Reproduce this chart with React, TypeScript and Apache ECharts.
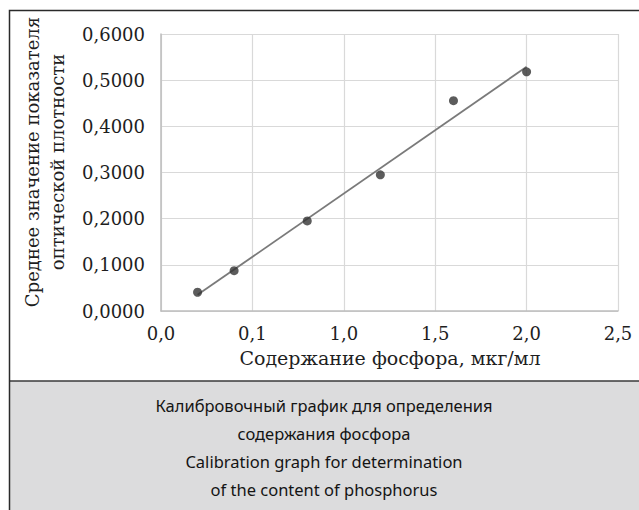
import React, { useEffect, useRef } from "react";
import * as echarts from "echarts";

const xValues = [0.2, 0.4, 0.8, 1.2, 1.6, 2.0];
const yValues = [0.0406, 0.0874, 0.195, 0.295, 0.4555, 0.518];
const trendX = [0.2, 2.0];
const trendY = [0.035, 0.529];
const xTickLabels = ["0,0", "0,1", "1,0", "1,5", "2,0", "2,5"];
const yTickLabels = ["0,0000", "0,1000", "0,2000", "0,3000", "0,4000", "0,5000", "0,6000"];
const xTitle = "Содержание фосфора, мкг/мл";
const yTitle = ["Среднее значение показателя", "оптической плотности"];
const captionLines = [
  "Калибровочный график для определения",
  "содержания фосфора",
  "Calibration graph for determination",
  "of the content of phosphorus",
];

export default function App() {
  const ref = useRef<HTMLDivElement>(null);
  useEffect(() => {
    if (!ref.current) return;
    const chart = echarts.init(ref.current, null, { renderer: "svg" });
    const serif = "DejaVu Serif";
    chart.setOption({
      animation: false,
      backgroundColor: "#ffffff",
      grid: { left: 161, top: 34, right: 21, bottom: 199, containLabel: false },
      xAxis: {
        type: "value",
        min: 0,
        max: 2.5,
        interval: 0.5,
        axisLine: { show: true, lineStyle: { color: "#bdbdbd", width: 1.5 } },
        axisTick: { show: false },
        splitLine: { show: true, lineStyle: { color: "#d9d9d9", width: 1.2 } },
        axisLabel: {
          margin: 13,
          fontFamily: serif,
          fontSize: 18,
          color: "#1e1e1e",
          formatter: (v: number) => xTickLabels[Math.round(v / 0.5)] ?? "",
        },
      },
      yAxis: {
        type: "value",
        min: 0,
        max: 0.6,
        interval: 0.1,
        axisLine: { show: true, lineStyle: { color: "#bdbdbd", width: 1.5 } },
        axisTick: { show: false },
        splitLine: { show: true, lineStyle: { color: "#d9d9d9", width: 1.2 } },
        axisLabel: {
          margin: 16,
          fontFamily: serif,
          fontSize: 18,
          color: "#1e1e1e",
          formatter: (v: number) => yTickLabels[Math.round(v / 0.1)] ?? "",
        },
      },
      series: [
        {
          type: "line",
          data: trendX.map((x, i) => [x, trendY[i]]),
          showSymbol: false,
          symbol: "none",
          lineStyle: { color: "#7a7a7a", width: 1.8 },
          silent: true,
          z: 2,
        },
        {
          type: "scatter",
          data: xValues.map((x, i) => [x, yValues[i]]),
          symbol: "circle",
          symbolSize: 9,
          itemStyle: { color: "#333333" },
          z: 3,
        },
      ],
      graphic: [
        {
          type: "rect",
          shape: { x: 9.5, y: 381, width: 640, height: 140 },
          style: { fill: "#dcdcdd", stroke: "none" },
          z: 0,
        },
        {
          type: "line",
          shape: { x1: 9, y1: 381, x2: 640, y2: 381 },
          style: { stroke: "#3a3a3a", lineWidth: 1.5 },
          z: 1,
        },
        {
          type: "rect",
          shape: { x: 9.5, y: 10.5, width: 640, height: 520 },
          style: { fill: "none", stroke: "#2a2a2a", lineWidth: 1.5 },
          z: 1,
        },
        {
          type: "text",
          x: 45,
          y: 162,
          rotation: Math.PI / 2,
          style: {
            text: yTitle.join("\n"),
            font: `18px "${serif}"`,
            fill: "#1e1e1e",
            align: "center",
            verticalAlign: "middle",
            lineHeight: 25,
          },
          z: 2,
        },
        {
          type: "text",
          x: 390,
          y: 358,
          style: {
            text: xTitle,
            font: `19px "${serif}"`,
            fill: "#1e1e1e",
            align: "center",
            verticalAlign: "middle",
          },
          z: 2,
        },
        {
          type: "text",
          x: 324,
          y: 447,
          style: {
            text: captionLines.join("\n"),
            font: `16.5px "Noto Sans"`,
            fill: "#141414",
            align: "center",
            verticalAlign: "middle",
            lineHeight: 28,
          },
          z: 2,
        },
      ],
    });
    return () => chart.dispose();
  }, []);
  return (
    <div style={{ position: "absolute", left: 0, top: 0, width: 639, height: 510 }}>
      <div ref={ref} style={{ width: 639, height: 510 }} />
    </div>
  );
}
